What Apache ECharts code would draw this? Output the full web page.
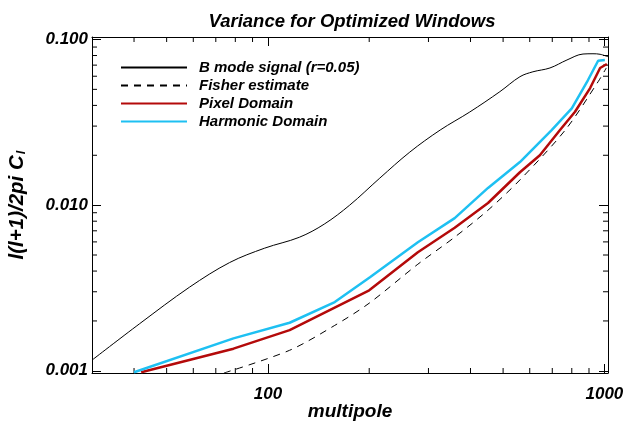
<!DOCTYPE html>
<html>
<head>
<meta charset="utf-8">
<script src="https://cdn.jsdelivr.net/npm/echarts@6/dist/echarts.min.js"></script>
<style>
  html, body { margin: 0; padding: 0; background: #fff; }
  #grafico { width: 629px; height: 425px; }
</style>
</head>
<body>
<div id="grafico"></div>
<script>
// multipole l, value l(l+1)/2pi C_l
const bModeL = [30, 41.5, 58.5, 76.9, 97.8, 124, 147, 175, 215, 264, 325, 398, 489, 561, 613, 689, 774, 864, 925, 971, 1025]
const bModeV = [0.00116, 0.00192, 0.00320, 0.00450, 0.0055, 0.0064, 0.00768, 0.0100, 0.01456, 0.0209, 0.0284, 0.0365, 0.0484, 0.0596, 0.0638, 0.0673, 0.0752, 0.0817, 0.0820, 0.0814, 0.0787]

const fisherL = [74, 116, 158, 200, 279, 359, 451, 561, 765, 958, 1013]
const fisherV = [0.00097, 0.00133, 0.00188, 0.00256, 0.00440, 0.00641, 0.00933, 0.0142, 0.0284, 0.0556, 0.0673]

const pixelL = [42, 79, 116, 200, 279, 359, 451, 561, 643, 738, 818, 907, 971, 1017]
const pixelV = [0.00098, 0.00136, 0.00176, 0.00306, 0.0052, 0.0073, 0.0103, 0.0158, 0.0200, 0.0284, 0.0366, 0.0509, 0.0673, 0.0711]

const harmL = [40, 79, 116, 158, 201, 279, 359, 451, 561, 697, 800, 894, 958, 1003]
const harmV = [0.00098, 0.00157, 0.00195, 0.00260, 0.00367, 0.00597, 0.00835, 0.0127, 0.0182, 0.0284, 0.0384, 0.0569, 0.0744, 0.0752]

const seriesNames = ['B mode signal (r=0.05)', 'Fisher estimate', 'Pixel Domain', 'Harmonic Domain']

// minor tick positions (log axes)
const minorX = [40, 50, 60, 70, 80, 90, 200, 300, 400, 500, 600, 700, 800, 900]
const minorY = [0.002, 0.003, 0.004, 0.005, 0.006, 0.007, 0.008, 0.009,
  0.02, 0.03, 0.04, 0.05, 0.06, 0.07, 0.08, 0.09]

const font = 'Liberation Sans, Arial, Helvetica, sans-serif'

function zip(xs, ys) {
  return xs.map((x, i) => [x, ys[i]])
}

function isDecade(v) {
  const e = Math.log10(v)
  return Math.abs(e - Math.round(e)) < 1e-6
}

let myChart = echarts.init(document.getElementById('grafico'))

const axisLine = { show: true, lineStyle: { color: '#000', width: 1 } }
const majorTick = { show: true, inside: true, length: 9, lineStyle: { color: '#000' } }

let option = {
  animation: false,
  backgroundColor: '#fff',
  title: {
    text: 'Variance for Optimized Windows',
    left: 347,
    textAlign: 'center',
    top: 7,
    textStyle: { fontFamily: font, fontSize: 18.5, fontWeight: 'bold', fontStyle: 'italic', color: '#000' }
  },
  legend: {
    data: seriesNames,
    orient: 'vertical',
    left: 115,
    top: 55,
    itemWidth: 66,
    itemHeight: 14,
    itemGap: 3,
    itemStyle: { opacity: 0 },
    textStyle: { fontFamily: font, fontSize: 15, fontWeight: 'bold', fontStyle: 'italic', color: '#000', padding: [0, 0, 0, 7] }
  },
  grid: { left: 92, right: 21, top: 37, bottom: 52, containLabel: false, outerBoundsMode: 'none' },
  xAxis: [
    {
      type: 'log',
      min: 30,
      max: 1025,
      logBase: 10,
      name: 'multipole',
      nameLocation: 'middle',
      nameGap: 29,
      nameMoveOverlap: false,
      nameTextStyle: { fontFamily: font, fontSize: 19, fontWeight: 'bold', fontStyle: 'italic', color: '#000' },
      axisLine: axisLine,
      axisTick: majorTick,
      splitLine: { show: false },
      axisLabel: {
        margin: 13,
        fontFamily: font, fontSize: 17, fontWeight: 'bold', fontStyle: 'italic', color: '#000',
        formatter: v => (isDecade(v) ? String(Math.round(v)) : '')
      }
    },
    {
      type: 'log',
      min: 30,
      max: 1025,
      position: 'top',
      axisLine: axisLine,
      axisTick: majorTick,
      splitLine: { show: false },
      axisLabel: { show: false }
    }
  ],
  yAxis: [
    {
      type: 'log',
      min: 0.00097,
      max: 0.1035,
      name: 'l(l+1)/2pi C{sub|l}',
      nameLocation: 'middle',
      nameGap: 64,
      nameMoveOverlap: false,
      nameTextStyle: {
        fontFamily: font, fontSize: 20.5, fontWeight: 'bold', fontStyle: 'italic', color: '#000',
        rich: {
          sub: { fontFamily: font, fontSize: 13, fontWeight: 'bold', fontStyle: 'italic', color: '#000', padding: [9, 0, 0, 1] }
        }
      },
      axisLine: axisLine,
      axisTick: majorTick,
      splitLine: { show: false },
      axisLabel: {
        margin: 4,
        fontFamily: font, fontSize: 17, fontWeight: 'bold', fontStyle: 'italic', color: '#000',
        formatter: v => (isDecade(v) ? v.toFixed(3) : '')
      }
    },
    {
      type: 'log',
      min: 0.00097,
      max: 0.1035,
      position: 'right',
      axisLine: axisLine,
      axisTick: majorTick,
      splitLine: { show: false },
      axisLabel: { show: false }
    }
  ],
  series: [
    {
      name: seriesNames[0],
      type: 'line',
      data: zip(bModeL, bModeV),
      smooth: 0.35,
      symbol: 'none',
      lineStyle: { color: '#000', width: 1 },
      itemStyle: { color: '#000' }
    },
    {
      name: seriesNames[1],
      type: 'line',
      data: zip(fisherL, fisherV),
      smooth: 0.3,
      symbol: 'none',
      lineStyle: { color: '#000', width: 1, type: [7, 6] },
      itemStyle: { color: '#000' }
    },
    {
      name: seriesNames[2],
      type: 'line',
      data: zip(pixelL, pixelV),
      symbol: 'none',
      lineStyle: { color: '#b40a0a', width: 2.5 },
      itemStyle: { color: '#b40a0a' }
    },
    {
      name: seriesNames[3],
      type: 'line',
      data: zip(harmL, harmV),
      symbol: 'none',
      lineStyle: { color: '#1ec0f2', width: 2.5 },
      itemStyle: { color: '#1ec0f2' }
    },
    {
      // minor ticks on bottom and top axes
      type: 'custom',
      silent: true,
      clip: false,
      data: minorX.map(v => [v, 0.01]),
      renderItem: (params, api) => {
        const cs = params.coordSys
        const x = api.coord([api.value(0), 0.01])[0]
        const style = { stroke: '#000', lineWidth: 1 }
        return {
          type: 'group',
          children: [
            { type: 'line', shape: { x1: x, y1: cs.y + cs.height, x2: x, y2: cs.y + cs.height - 5 }, style: style },
            { type: 'line', shape: { x1: x, y1: cs.y, x2: x, y2: cs.y + 5 }, style: style }
          ]
        }
      }
    },
    {
      // minor ticks on left and right axes
      type: 'custom',
      silent: true,
      clip: false,
      data: minorY.map(v => [100, v]),
      renderItem: (params, api) => {
        const cs = params.coordSys
        const y = api.coord([100, api.value(1)])[1]
        const style = { stroke: '#000', lineWidth: 1 }
        return {
          type: 'group',
          children: [
            { type: 'line', shape: { x1: cs.x, y1: y, x2: cs.x + 5, y2: y }, style: style },
            { type: 'line', shape: { x1: cs.x + cs.width, y1: y, x2: cs.x + cs.width - 5, y2: y }, style: style }
          ]
        }
      }
    }
  ]
}

myChart.setOption(option)
</script>
</body>
</html>
